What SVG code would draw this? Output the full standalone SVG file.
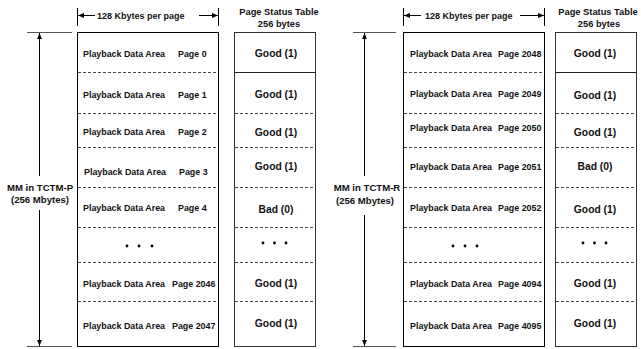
<svg xmlns="http://www.w3.org/2000/svg" width="641" height="349" viewBox="0 0 641 349">
  <style>
    .t { font-family: "Liberation Sans", Arial, sans-serif; font-weight: bold; fill: #111; }
    .pg { font-size: 8.9px; }
    .st { font-size: 10.3px; text-anchor: middle; }
    .hd { font-size: 9.3px; text-anchor: middle; }
    .kb { font-size: 9px; }
    .mm { font-size: 9.6px; text-anchor: middle; }
    .box { fill: #fff; stroke: #000; stroke-width: 1; }
    .sbox { fill: #fff; stroke: #333; stroke-width: 1; }
    .dash { stroke: #444; stroke-width: 1; stroke-dasharray: 3 2; fill: none; }
    .solid { stroke: #222; stroke-width: 1; fill: none; }
    .ln { stroke: #000; stroke-width: 1; fill: none; }
    .tick { stroke: #555; stroke-width: 1; fill: none; }
    .dot { fill: #000; }
  </style>
  <defs>
    <marker id="ah" viewBox="0 0 10 10" refX="10" refY="5" markerWidth="6" markerHeight="6" orient="auto-start-reverse" markerUnits="userSpaceOnUse">
      <path d="M0,1 L10,5 L0,9 z" fill="#000"/>
    </marker>
  </defs>

  <!-- connectors: size rulers and width arrows -->
  <g id="connectors">
    <!-- left memory ruler -->
    <line class="tick" x1="27" y1="32.5" x2="72" y2="32.5"/>
    <line class="tick" x1="27" y1="346.5" x2="72" y2="346.5"/>
    <line class="ln" x1="39.5" y1="176" x2="39.5" y2="33" marker-end="url(#ah)"/>
    <line class="ln" x1="39.5" y1="210" x2="39.5" y2="346" marker-end="url(#ah)"/>
    <!-- right memory ruler -->
    <line class="tick" x1="353" y1="32.5" x2="396" y2="32.5"/>
    <line class="tick" x1="353" y1="346.5" x2="396" y2="346.5"/>
    <line class="ln" x1="364.5" y1="176" x2="364.5" y2="33" marker-end="url(#ah)"/>
    <line class="ln" x1="364.5" y1="215" x2="364.5" y2="346" marker-end="url(#ah)"/>
    <!-- left page width -->
    <line class="ln" x1="77.5" y1="8" x2="77.5" y2="26"/>
    <line class="ln" x1="218.5" y1="8" x2="218.5" y2="26"/>
    <line class="ln" x1="95" y1="15.5" x2="78" y2="15.5" marker-end="url(#ah)"/>
    <line class="ln" x1="199" y1="15.5" x2="218" y2="15.5" marker-end="url(#ah)"/>
    <!-- right page width -->
    <line class="ln" x1="403.5" y1="8" x2="403.5" y2="26"/>
    <line class="ln" x1="544.5" y1="8" x2="544.5" y2="26"/>
    <line class="ln" x1="421" y1="15.5" x2="404" y2="15.5" marker-end="url(#ah)"/>
    <line class="ln" x1="520" y1="15.5" x2="544" y2="15.5" marker-end="url(#ah)"/>
  </g>

  <!-- labels of the two memory modules -->
  <g id="label-tctm-p">
    <text class="t mm" x="40" y="190.5">MM in TCTM-P</text>
    <text class="t mm" x="40" y="203">(256 Mbytes)</text>
  </g>
  <g id="label-tctm-r">
    <text class="t mm" x="367" y="190.5">MM in TCTM-R</text>
    <text class="t mm" x="365" y="203.5">(256 Mbytes)</text>
  </g>

  <g id="header-left">
    <text class="t kb" x="97" y="19">128 Kbytes per page</text>
    <text class="t hd" x="279" y="15">Page Status Table</text>
    <text class="t hd" x="279" y="27">256 bytes</text>
  </g>
  <g id="header-right">
    <text class="t kb" x="425" y="19">128 Kbytes per page</text>
    <text class="t hd" x="598" y="15">Page Status Table</text>
    <text class="t hd" x="599" y="27">256 bytes</text>
  </g>

  <!-- TCTM-P playback data pages -->
  <g id="data-p">
    <rect class="box" x="77.5" y="32.5" width="141" height="314"/>
    <path class="dash" d="M78,72.5H218 M78,113.5H218 M78,147.5H218 M78,187.5H218 M78,227.5H218 M78,262.5H218 M78,301.5H218"/>
    <text class="t pg" x="83" y="56.5">Playback Data Area</text><text class="t pg" x="178" y="56.5">Page 0</text>
    <text class="t pg" x="83" y="97.5">Playback Data Area</text><text class="t pg" x="178" y="97.5">Page 1</text>
    <text class="t pg" x="83" y="134.5">Playback Data Area</text><text class="t pg" x="178" y="134.5">Page 2</text>
    <text class="t pg" x="84" y="174.5">Playback Data Area</text><text class="t pg" x="179" y="174.5">Page 3</text>
    <text class="t pg" x="83" y="210.5">Playback Data Area</text><text class="t pg" x="178" y="210.5">Page 4</text>
    <circle class="dot" cx="127" cy="246" r="1.4"/><circle class="dot" cx="139" cy="246" r="1.4"/><circle class="dot" cx="152" cy="246" r="1.4"/>
    <text class="t pg" x="83" y="286.5">Playback Data Area</text><text class="t pg" x="172" y="286.5">Page 2046</text>
    <text class="t pg" x="83" y="328.5">Playback Data Area</text><text class="t pg" x="172" y="328.5">Page 2047</text>
  </g>

  <!-- TCTM-P page status table -->
  <g id="status-p">
    <rect class="sbox" x="234.5" y="32.5" width="81" height="314"/>
    <path class="solid" d="M235,72.5H315"/>
    <path class="dash" d="M235,113.5H315 M235,147.5H315 M235,187.5H315 M235,227.5H315 M235,262.5H315 M235,301.5H315"/>
    <text class="t st" x="276" y="57">Good (1)</text>
    <text class="t st" x="276" y="98">Good (1)</text>
    <text class="t st" x="276" y="136">Good (1)</text>
    <text class="t st" x="276" y="170">Good (1)</text>
    <text class="t st" x="276" y="213">Bad (0)</text>
    <circle class="dot" cx="263" cy="243" r="1.4"/><circle class="dot" cx="274.5" cy="243" r="1.4"/><circle class="dot" cx="286" cy="243" r="1.4"/>
    <text class="t st" x="276" y="287">Good (1)</text>
    <text class="t st" x="276" y="327">Good (1)</text>
  </g>

  <!-- TCTM-R playback data pages -->
  <g id="data-r">
    <rect class="box" x="403.5" y="32.5" width="141" height="314"/>
    <path class="dash" d="M404,72.5H544 M404,113.5H544 M404,147.5H544 M404,187.5H544 M404,227.5H544 M404,262.5H544 M404,301.5H544"/>
    <text class="t pg" x="410" y="56.5">Playback Data Area</text><text class="t pg" x="498" y="56.5">Page 2048</text>
    <text class="t pg" x="410" y="96.5">Playback Data Area</text><text class="t pg" x="498" y="96.5">Page 2049</text>
    <text class="t pg" x="410" y="130.5">Playback Data Area</text><text class="t pg" x="498" y="130.5">Page 2050</text>
    <text class="t pg" x="410" y="169.5">Playback Data Area</text><text class="t pg" x="498" y="169.5">Page 2051</text>
    <text class="t pg" x="410" y="211">Playback Data Area</text><text class="t pg" x="498" y="211">Page 2052</text>
    <circle class="dot" cx="453" cy="246" r="1.4"/><circle class="dot" cx="465" cy="246" r="1.4"/><circle class="dot" cx="477" cy="246" r="1.4"/>
    <text class="t pg" x="410" y="286.5">Playback Data Area</text><text class="t pg" x="498" y="286.5">Page 4094</text>
    <text class="t pg" x="410" y="329">Playback Data Area</text><text class="t pg" x="498" y="329">Page 4095</text>
  </g>

  <!-- TCTM-R page status table -->
  <g id="status-r">
    <rect class="sbox" x="555.5" y="32.5" width="81" height="314"/>
    <path class="solid" d="M556,72.5H636"/>
    <path class="dash" d="M556,113.5H636 M556,147.5H636 M556,187.5H636 M556,227.5H636 M556,262.5H636 M556,301.5H636"/>
    <text class="t st" x="595" y="57">Good (1)</text>
    <text class="t st" x="595" y="99">Good (1)</text>
    <text class="t st" x="595" y="136">Good (1)</text>
    <text class="t st" x="595" y="170">Bad (0)</text>
    <text class="t st" x="595" y="213">Good (1)</text>
    <circle class="dot" cx="583" cy="243" r="1.4"/><circle class="dot" cx="594.5" cy="243" r="1.4"/><circle class="dot" cx="606" cy="243" r="1.4"/>
    <text class="t st" x="595" y="287">Good (1)</text>
    <text class="t st" x="595" y="327">Good (1)</text>
  </g>
</svg>
